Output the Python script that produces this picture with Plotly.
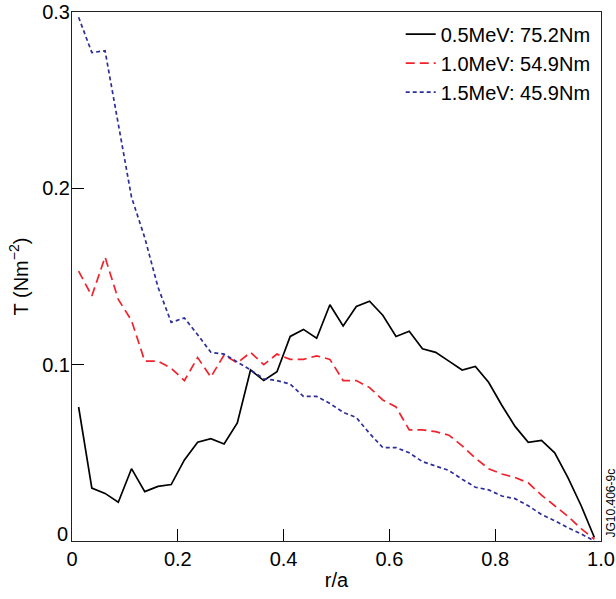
import plotly.graph_objects as go

r_a = [0.0125, 0.0375, 0.0625, 0.0875, 0.1125, 0.1375, 0.1625, 0.1875, 0.2125, 0.2375,
       0.2625, 0.2875, 0.3125, 0.3375, 0.3625, 0.3875, 0.4125, 0.4375, 0.4625, 0.4875,
       0.5125, 0.5375, 0.5625, 0.5875, 0.6125, 0.6375, 0.6625, 0.6875, 0.7125, 0.7375,
       0.7625, 0.7875, 0.8125, 0.8375, 0.8625, 0.8875, 0.9125, 0.9375, 0.9625, 0.9875]

t_05 = [0.076, 0.030, 0.027, 0.022, 0.041, 0.028, 0.031, 0.032, 0.046, 0.056,
        0.058, 0.055, 0.067, 0.097, 0.091, 0.096, 0.116, 0.120, 0.115, 0.134,
        0.122, 0.133, 0.136, 0.128, 0.116, 0.119, 0.109, 0.107, 0.102, 0.097,
        0.099, 0.090, 0.077, 0.065, 0.056, 0.057, 0.050, 0.036, 0.020, 0.002]

t_10 = [0.153, 0.139, 0.161, 0.137, 0.125, 0.102, 0.102, 0.098, 0.091, 0.104,
        0.093, 0.1055, 0.101, 0.107, 0.100, 0.106, 0.103, 0.103, 0.105, 0.103,
        0.091, 0.091, 0.087, 0.080, 0.076, 0.063, 0.063, 0.062, 0.060, 0.054,
        0.047, 0.041, 0.038, 0.036, 0.033, 0.026, 0.020, 0.014, 0.007, 0.001]

t_15 = [0.297, 0.277, 0.278, 0.236, 0.195, 0.172, 0.144, 0.124, 0.1265, 0.117,
        0.107, 0.106, 0.1015, 0.097, 0.092, 0.091, 0.089, 0.082, 0.082, 0.078,
        0.073, 0.070, 0.061, 0.053, 0.053, 0.050, 0.045, 0.0425, 0.040, 0.035,
        0.0305, 0.029, 0.0255, 0.024, 0.020, 0.015, 0.0115, 0.0075, 0.004, 0.0]

names = ["0.5MeV: 75.2Nm", "1.0MeV: 54.9Nm", "1.5MeV: 45.9Nm"]

x_ticks = [0, 0.2, 0.4, 0.6, 0.8, 1.0]
x_tick_text = ["0", "0.2", "0.4", "0.6", "0.8", "1.0"]
y_ticks = [0.1, 0.2, 0.3]
y_tick_text = ["0.1", "0.2", "0.3"]
y_zero = 0
y_zero_label = "0"

FONT = "Liberation Sans, Arial, Helvetica, sans-serif"
FS = 20

fig = go.Figure()
fig.add_trace(go.Scatter(x=r_a, y=t_05, mode="lines", name=names[0],
                         line=dict(color="black", width=1.7)))
fig.add_trace(go.Scatter(x=r_a, y=t_10, mode="lines", name=names[1],
                         line=dict(color="#f2222c", width=1.7, dash="9px,5px")))
fig.add_trace(go.Scatter(x=r_a, y=t_15, mode="lines", name=names[2],
                         line=dict(color="#2e2e9a", width=1.7, dash="4px,3px")))

axis_common = dict(
    showgrid=False, zeroline=False, showline=True, linecolor="#222", linewidth=1,
    mirror=True, ticks="inside", ticklen=12, tickwidth=1, tickcolor="black",
    tickfont=dict(size=FS, color="black", family=FONT), automargin=False,
)

fig.update_xaxes(range=[0, 1.0], tickvals=x_ticks, ticktext=x_tick_text,
                 title=dict(text="r/a", font=dict(size=FS, color="black", family=FONT), standoff=3),
                 **axis_common)
fig.update_yaxes(range=[0, 0.3], tickvals=y_ticks, ticktext=y_tick_text,
                 ticklabelstandoff=-3,
                 title=dict(text="T (Nm<sup>−2</sup>)", font=dict(size=FS, color="black", family=FONT), standoff=8),
                 **axis_common)

# y-axis "0" label sits slightly above the corner, as in the original
fig.add_annotation(text=y_zero_label, xref="paper", yref="y", x=0, y=y_zero,
                   xanchor="right", yanchor="middle", xshift=-2, yshift=7,
                   showarrow=False, font=dict(size=FS, color="black", family=FONT))

fig.add_annotation(text="JG10.406-9c", textangle=-90, xref="paper", yref="paper",
                   x=1, y=0, xanchor="left", yanchor="bottom", xshift=0, yshift=1,
                   showarrow=False, font=dict(size=12, color="black", family=FONT))

fig.update_layout(
    width=616, height=599,
    margin=dict(l=72, r=15, t=12, b=58),
    paper_bgcolor="white", plot_bgcolor="white",
    font=dict(family=FONT, color="black", size=FS),
    showlegend=True,
    legend=dict(x=0.99, y=0.995, xanchor="right", yanchor="top",
                bgcolor="rgba(0,0,0,0)", font=dict(size=FS, family=FONT),
                tracegroupgap=0, itemwidth=30),
)

fig.write_html("out.html", config={"displayModeBar": False},
               post_script="document.body.style.margin='0px';")
